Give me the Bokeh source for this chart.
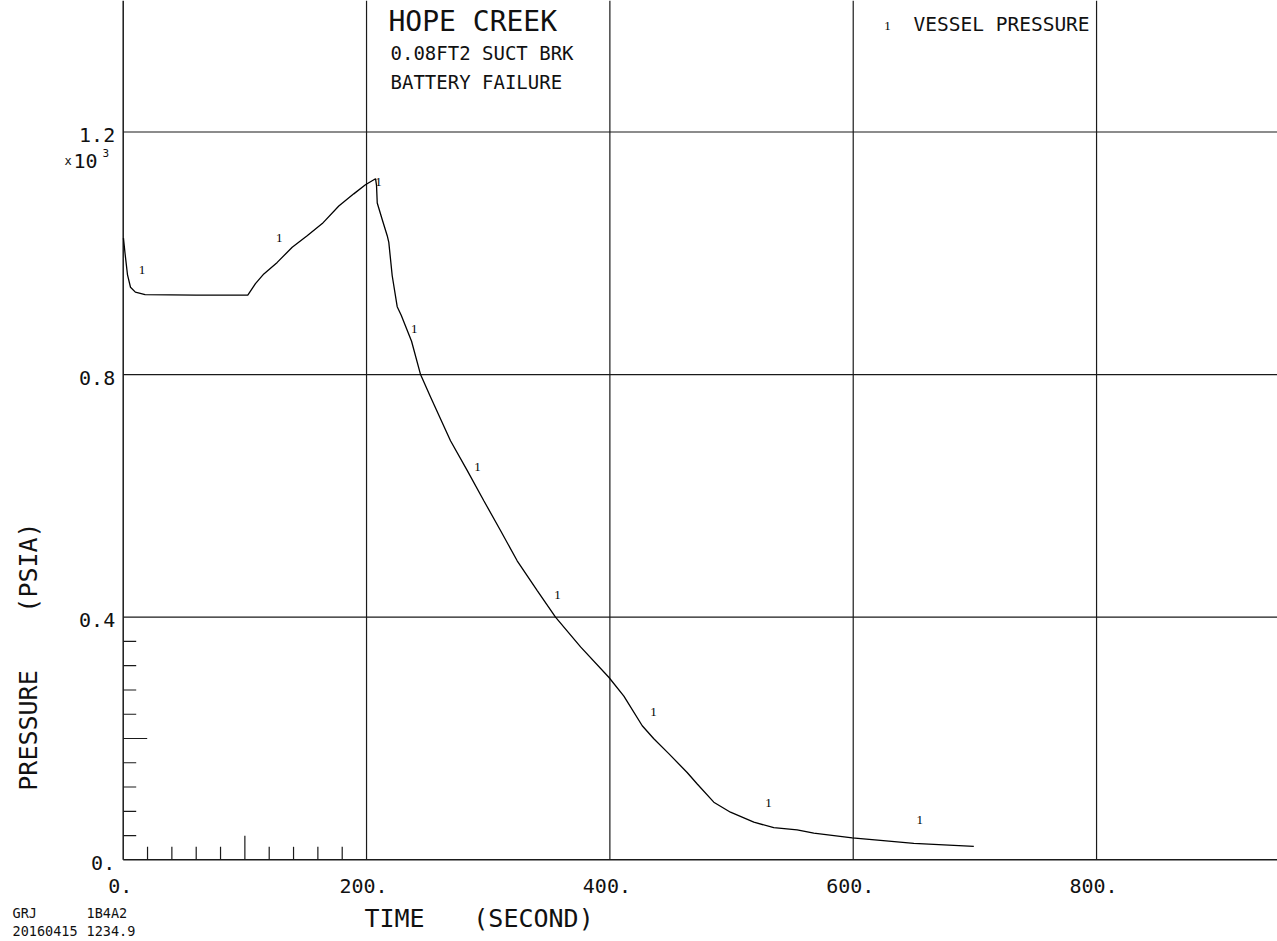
import math
from bokeh.plotting import figure
from bokeh.models import Range1d
from bokeh.core.properties import value
from bokeh.embed import file_html
from bokeh.resources import INLINE

# ---------------- data ----------------
time_s = [0.2, 1.5, 3.5, 6.0, 10.0, 18.0, 60.0, 102.4, 108.7, 115.6, 126.6,
          138.9, 151.2, 163.6, 177.2, 189.5, 199.1, 207.4, 208.2, 208.8, 213.0,
          217.0, 218.3, 221.1, 225.2, 228.5, 237.0, 244.4, 252.6, 269.0, 282.7,
          296.4, 310.1, 323.8, 340.3, 355.3, 375.9, 399.1, 411.5, 426.6, 436.1,
          448.4, 463.5, 471.8, 485.4, 499.1, 518.3, 534.7, 553.9, 567.6, 599.2,
          622.4, 649.8, 699.1]
pressure_psia = [1025, 1000, 965, 944, 936, 932, 931, 931, 950, 966, 985,
                 1010, 1029, 1049, 1078, 1098, 1113, 1123, 1112, 1083, 1055,
                 1029, 1018, 963, 912, 898, 855, 800, 763, 691, 642,
                 592, 543, 493, 444, 400, 351, 301, 270, 221, 199.5,
                 175, 144, 125, 95, 78.5, 62, 53, 49.5, 44, 36,
                 32, 27, 22]

marker_t = [15.4, 128.3, 209.9, 239.3, 291.1, 356.9, 435.9, 530.4, 654.6]
marker_p = [972, 1025, 1118, 876, 648, 437, 243, 94, 66]
marker_text = ["1"] * len(marker_t)

x_tick_values = [0, 200, 400, 600, 800]
x_tick_labels = ["0.", "200.", "400.", "600.", "800."]
x_mid_ticks = [100]
x_minor_ticks = [20, 40, 60, 80, 120, 140, 160, 180]

y_tick_values = [0, 400, 800, 1200]
y_tick_labels = ["0.", "0.4", "0.8", "1.2"]
y_mid_ticks = [200]
y_minor_ticks = [40, 80, 120, 160, 240, 280, 320, 360]

x_grid_values = [200, 400, 600, 800]
y_grid_values = [400, 800, 1200]

title_lines = ["HOPE CREEK", "0.08FT2 SUCT BRK", "BATTERY FAILURE"]
legend_label = "VESSEL PRESSURE"
footer_left = ["GRJ", "20160415"]
footer_right = ["1B4A2", "1234.9"]

# ---------------- layout ----------------
W, H = 1277, 941
SX = 1.2167            # px per second
SY = 0.6065            # px per psia
OX, OY = 122.7, 859.3  # pixel position of the origin
XL, XR = -OX / SX, (W - OX) / SX
YT, YB = OY / SY, (OY - H) / SY
MONO = "DejaVu Sans Mono"
SERIF = "Liberation Serif"
INK = "#111111"
LINE = "#1a1a1a"

p = figure(width=W, height=H, x_range=Range1d(XL, XR), y_range=Range1d(YB, YT),
           x_axis_type=None, y_axis_type=None, output_backend="svg",
           toolbar_location=None, min_border=0)
p.outline_line_color = None
p.background_fill_color = "white"
p.border_fill_color = "white"


def dx(px):
    return (px - OX) / SX


def dy(py):
    return (OY - py) / SY


def txt(xs, ys, texts, size, font=MONO, align="left", baseline="middle",
        angle=0.0, color=INK):
    p.text(x=xs, y=ys, text=texts, text_font=value(font),
           text_font_size=f"{size}px", text_align=align,
           text_baseline=baseline, angle=angle, text_color=color)


# grid lines
n = len(x_grid_values)
p.segment(x0=x_grid_values, y0=[0] * n, x1=x_grid_values, y1=[YT] * n,
          line_color=LINE, line_width=1.2)
n = len(y_grid_values)
p.segment(x0=[0] * n, y0=y_grid_values, x1=[XR] * n, y1=y_grid_values,
          line_color=LINE, line_width=1.2)

# axis lines
p.segment(x0=[0, 0], y0=[0, 0], x1=[0, XR], y1=[YT, 0],
          line_color=LINE, line_width=1.5)

# ticks (inward)
minor_len, mid_len = 13, 24
n = len(x_minor_ticks)
p.segment(x0=x_minor_ticks, y0=[0] * n, x1=x_minor_ticks, y1=[minor_len / SY] * n,
          line_color=LINE, line_width=1.2)
n = len(x_mid_ticks)
p.segment(x0=x_mid_ticks, y0=[0] * n, x1=x_mid_ticks, y1=[mid_len / SY] * n,
          line_color=LINE, line_width=1.2)
n = len(y_minor_ticks)
p.segment(x0=[0] * n, y0=y_minor_ticks, x1=[minor_len / SX] * n, y1=y_minor_ticks,
          line_color=LINE, line_width=1.2)
n = len(y_mid_ticks)
p.segment(x0=[0] * n, y0=y_mid_ticks, x1=[mid_len / SX] * n, y1=y_mid_ticks,
          line_color=LINE, line_width=1.2)

# tick labels
txt([v - 3 / SX for v in x_tick_values], [-(885.5 - OY) / SY] * len(x_tick_values),
    x_tick_labels, 20, align="center")
txt([-8 / SX] * len(y_tick_values), [v - 3 / SY for v in y_tick_values],
    y_tick_labels, 20, align="right")

# multiplier x10^3
txt([dx(64)], [dy(160)], ["x"], 12)
txt([dx(73)], [dy(160)], ["10"], 20)
txt([dx(102)], [dy(152)], ["3"], 11)

# curve and its symbols
p.line(time_s, pressure_psia, line_color="black", line_width=1.3)
txt(marker_t, marker_p, marker_text, 13, font=SERIF, align="center", color="black")

# title block
txt([dx(388)], [dy(21)], [title_lines[0]], 28)
txt([dx(390)], [dy(52)], [title_lines[1]], 19)
txt([dx(390)], [dy(81.5)], [title_lines[2]], 19)

# legend
txt([dx(887)], [dy(25)], ["1"], 13, font=SERIF, align="center", color="black")
txt([dx(913)], [dy(24)], [legend_label], 19.5)

# axis titles
txt([dx(394)], [dy(918)], ["TIME"], 25, align="center")
txt([dx(533)], [dy(918)], ["(SECOND)"], 25, align="center")
txt([dx(27.5)], [dy(730)], ["PRESSURE"], 25, align="center", angle=math.pi / 2)
txt([dx(27.5)], [dy(567)], ["(PSIA)"], 25, align="center", angle=math.pi / 2)

# footer
txt([dx(12)] * 2, [dy(912.5), dy(930)], footer_left, 13.5)
txt([dx(86)] * 2, [dy(912.5), dy(930)], footer_right, 13.5)

open("out.html", "w").write(file_html(p, INLINE))
